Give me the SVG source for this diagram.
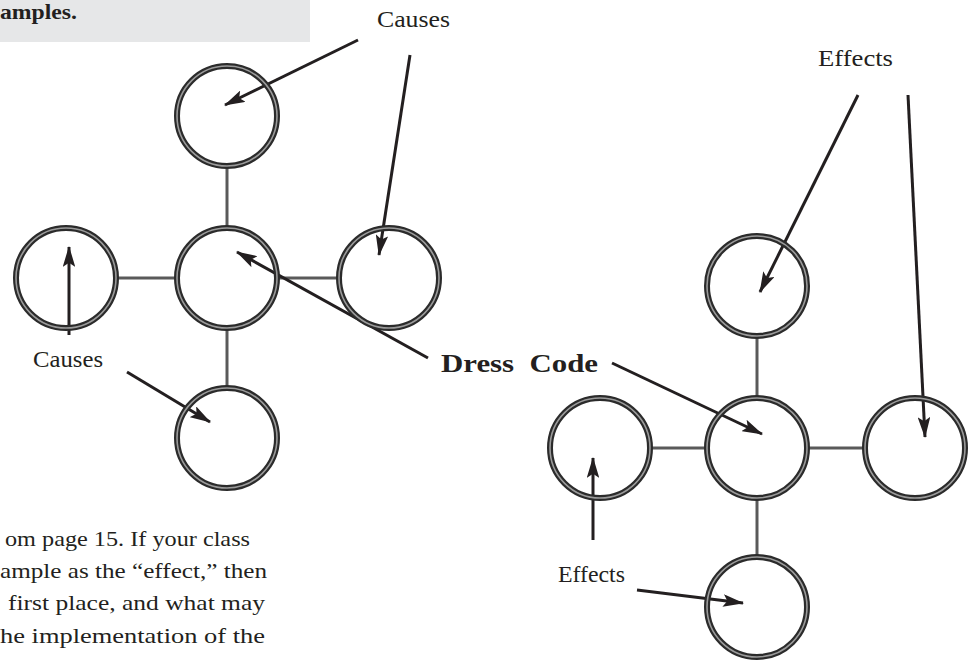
<svg xmlns="http://www.w3.org/2000/svg" width="970" height="661" viewBox="0 0 970 661">
<style>
.ring{fill:none;stroke:#2b2b2b;stroke-width:6}
.ringi{fill:none;stroke:#9a9a9a;stroke-width:1.6}
.con{stroke:#5a5a5a;stroke-width:3}
.arr{stroke:#231f20;stroke-width:3;fill:none;marker-end:url(#ah)}
.t{font-family:"Liberation Serif",serif;fill:#231f20}
.lab{font-size:24px}
.para{font-size:22px}
</style>
<defs>
<marker id="ah" viewBox="0 0 20 12" refX="19" refY="6" markerWidth="7" markerHeight="4.2" orient="auto" markerUnits="strokeWidth">
<path d="M0,0 L20,6 L0,12 L4,6 Z" fill="#231f20"/>
</marker>
</defs>
<rect x="0" y="0" width="310" height="42" fill="#e6e7e8"/>
<text class="t" x="0" y="19" font-size="22" font-weight="bold" textLength="77" lengthAdjust="spacingAndGlyphs">amples.</text>

<g id="connectors">
<line class="con" x1="227" y1="166" x2="227" y2="228"/>
<line class="con" x1="116" y1="278" x2="177" y2="278"/>
<line class="con" x1="277" y1="278" x2="339" y2="278"/>
<line class="con" x1="227" y1="328" x2="227" y2="388"/>
<line class="con" x1="757" y1="336" x2="757" y2="398"/>
<line class="con" x1="650" y1="448" x2="707" y2="448"/>
<line class="con" x1="807" y1="448" x2="865" y2="448"/>
<line class="con" x1="757" y1="498" x2="757" y2="557"/>
<line class="arr" x1="358" y1="40" x2="225" y2="105"/>
<line class="arr" x1="410" y1="55" x2="379" y2="255"/>
<line class="arr" x1="69" y1="335" x2="69" y2="247"/>
<line class="arr" x1="127" y1="372" x2="210" y2="422"/>
<line class="arr" x1="428" y1="358" x2="237" y2="252"/>
<line class="arr" x1="858" y1="95" x2="760" y2="292"/>
<line class="arr" x1="908" y1="95" x2="925" y2="437"/>
<line class="arr" x1="612" y1="363" x2="762" y2="434"/>
<line class="arr" x1="593" y1="540" x2="593" y2="458"/>
<line class="arr" x1="637" y1="590" x2="743" y2="603"/>
</g>

<g id="L-top"><circle class="ring" cx="227" cy="116" r="50"/><circle class="ringi" cx="227" cy="116" r="50"/></g>
<g id="L-center"><circle class="ring" cx="227" cy="278" r="50"/><circle class="ringi" cx="227" cy="278" r="50"/></g>
<g id="L-left"><circle class="ring" cx="66" cy="278" r="50"/><circle class="ringi" cx="66" cy="278" r="50"/></g>
<g id="L-right"><circle class="ring" cx="389" cy="278" r="50"/><circle class="ringi" cx="389" cy="278" r="50"/></g>
<g id="L-bottom"><circle class="ring" cx="227" cy="438" r="50"/><circle class="ringi" cx="227" cy="438" r="50"/></g>

<g id="R-top"><circle class="ring" cx="757" cy="286" r="50"/><circle class="ringi" cx="757" cy="286" r="50"/></g>
<g id="R-center"><circle class="ring" cx="757" cy="448" r="50"/><circle class="ringi" cx="757" cy="448" r="50"/></g>
<g id="R-left"><circle class="ring" cx="600" cy="448" r="50"/><circle class="ringi" cx="600" cy="448" r="50"/></g>
<g id="R-right"><circle class="ring" cx="915" cy="448" r="50"/><circle class="ringi" cx="915" cy="448" r="50"/></g>
<g id="R-bottom"><circle class="ring" cx="757" cy="607" r="50"/><circle class="ringi" cx="757" cy="607" r="50"/></g>

<g id="labels">
<text class="t lab" x="377" y="27" textLength="73" lengthAdjust="spacingAndGlyphs">Causes</text>
<text class="t lab" x="33" y="367" textLength="70" lengthAdjust="spacingAndGlyphs">Causes</text>
<text class="t" x="441" y="372" font-size="26" font-weight="bold" textLength="157" lengthAdjust="spacingAndGlyphs" style="white-space:pre">Dress  Code</text>
<text class="t lab" x="818" y="66" textLength="75" lengthAdjust="spacingAndGlyphs">Effects</text>
<text class="t lab" x="558" y="582" textLength="67" lengthAdjust="spacingAndGlyphs">Effects</text>
</g>

<g id="paragraph">
<text class="t para" x="5" y="546" textLength="245" lengthAdjust="spacingAndGlyphs">om page 15. If your class</text>
<text class="t para" x="0" y="578" textLength="267" lengthAdjust="spacingAndGlyphs">ample as the “effect,” then</text>
<text class="t para" x="8" y="610" textLength="257" lengthAdjust="spacingAndGlyphs">first place, and what may</text>
<text class="t para" x="0" y="643" textLength="265" lengthAdjust="spacingAndGlyphs">he implementation of the</text>
</g>
</svg>
